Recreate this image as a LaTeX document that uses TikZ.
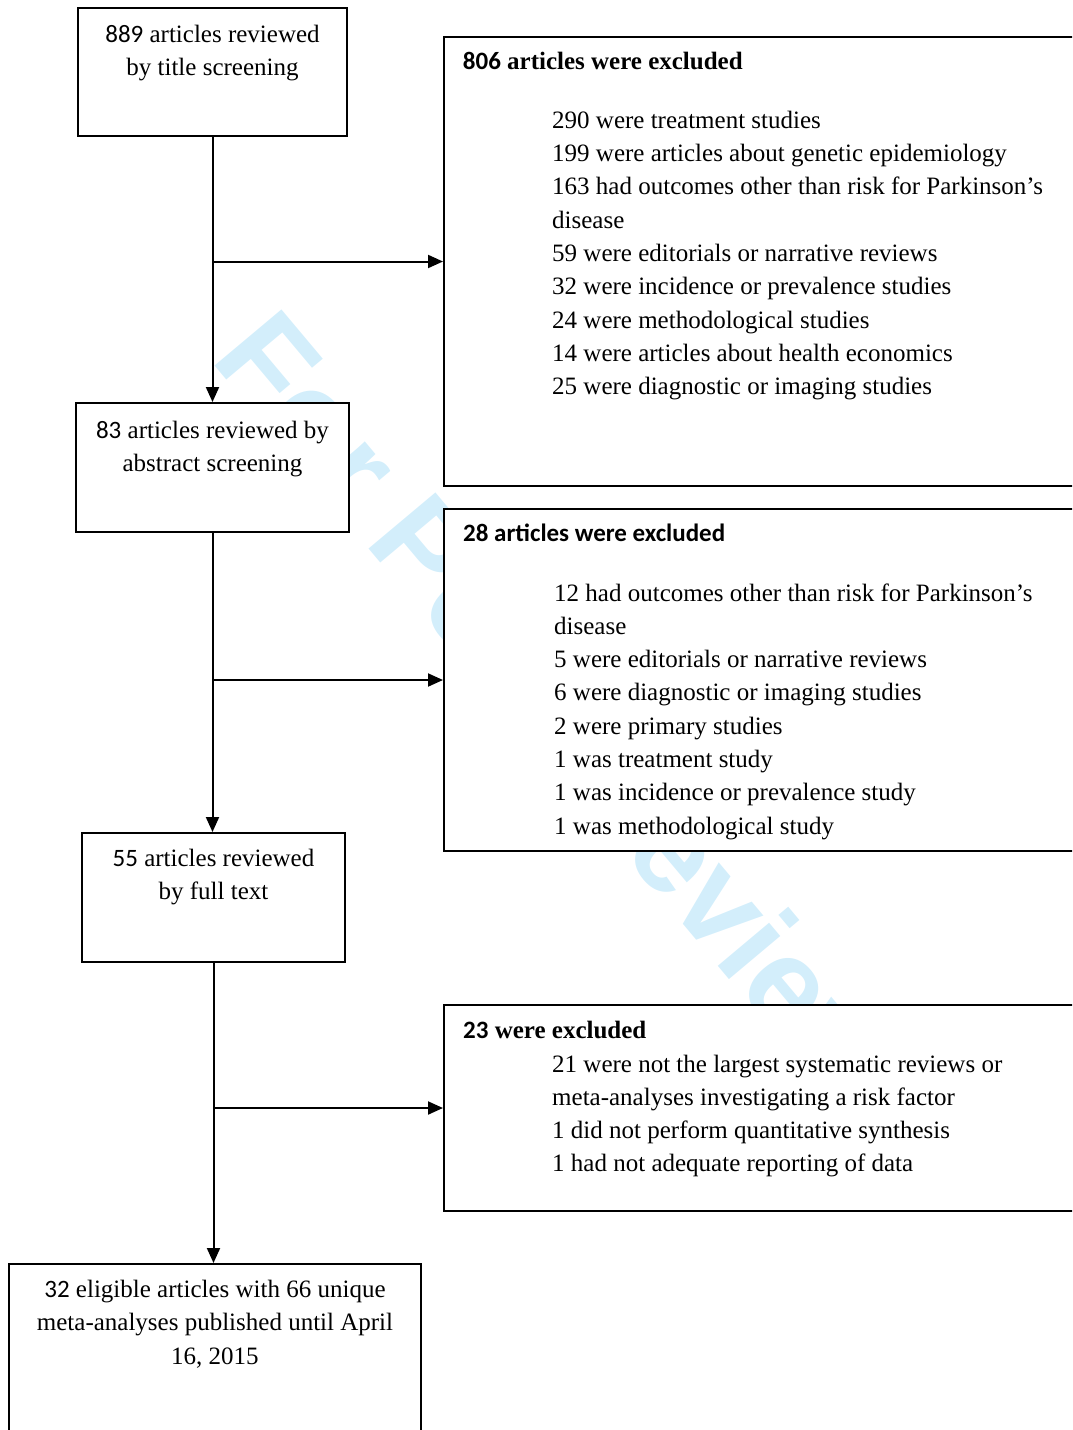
\documentclass[tikz,border=0pt]{standalone}
\usepackage{fontspec}
\setmainfont{Liberation Serif}
\newfontfamily\calfont{Carlito}
\newfontfamily\wmfont{Liberation Sans}
\usepackage{xcolor}
\usepackage{tikz}
\usetikzlibrary{arrows.meta,positioning,calc}
\definecolor{wmblue}{HTML}{D3EEFB}
\definecolor{ink}{HTML}{000000}
\tikzset{
  stagebox/.style={
    rectangle, draw=ink, fill=white, line width=2pt,
    inner sep=0pt
  },
  stagetext/.style={
    anchor=base, align=center, inner sep=0pt,
    font=\fontsize{25}{33.6}\selectfont
  },
  exclbox/.style={
    rectangle, draw=ink, fill=white, line width=2pt,
    anchor=north west, minimum width=660pt, inner sep=0pt
  },
  exclhead/.style={
    anchor=base west, inner sep=0pt,
    font=\fontsize{25}{33.3}\selectfont\bfseries
  },
  excllist/.style={
    anchor=base west, align=left, inner sep=0pt,
    font=\fontsize{25}{33.3}\selectfont
  },
  flowarrow/.style={
    -{Triangle[length=15pt,width=13pt]}, line width=2pt, color=ink
  },
  watermark/.style={
    text=wmblue, font=\wmfont\bfseries\fontsize{127}{127}\selectfont,
    anchor=base west, inner sep=0pt, rotate=-50
  },
}
\begin{document}
\begin{tikzpicture}[x=1pt,y=-1pt]
    \clip (0,0) rectangle (1072,1430);
    % watermark, behind the boxes
    \node[watermark] (wmark) at (209,359) {For Peer Review};

    % LEFT COLUMN: screening stages (text anchored at its last baseline)
    \node[stagebox, minimum width=269pt, minimum height=128pt] (title) at (212.5,72) {};
    \node[stagetext] (titletext) at ([yshift=-68.6pt]title.north) {%
        {\calfont 889} articles reviewed\\by title screening};

    \node[stagebox, minimum width=273pt, minimum height=129pt] (abstract) at (212.5,467.5) {};
    \node[stagetext] (abstracttext) at ([yshift=-69.6pt]abstract.north) {%
        {\calfont 83} articles reviewed by\\abstract screening};

    \node[stagebox, minimum width=263pt, minimum height=129pt] (fulltext) at (213.5,897.5) {};
    \node[stagetext] (fulltexttext) at ([yshift=-67.6pt]fulltext.north) {%
        {\calfont 55} articles reviewed\\by full text};

    \node[stagebox, minimum width=412pt, minimum height=200pt] (eligible) at (215,1364) {};
    \node[stagetext] (eligibletext) at ([yshift=-101.2pt]eligible.north) {%
        {\calfont 32} eligible articles with 66 unique\\
        meta-analyses published until April\\16, 2015};

    % RIGHT COLUMN: exclusions
    \node[exclbox, minimum height=449pt] (excltitle) at (443,36) {};
    \node[exclhead] (excltitlehead) at ([xshift=19.7pt,yshift=-33.3pt]excltitle.north west) {%
        {\calfont 806} articles were excluded};
    \node[excllist] (excltitlelist) at ([xshift=109pt,yshift=-358.7pt]excltitle.north west) {%
        290 were treatment studies\\
        199 were articles about genetic epidemiology\\
        163 had outcomes other than risk for Parkinson’s\\
        disease\\
        59 were editorials or narrative reviews\\
        32 were incidence or prevalence studies\\
        24 were methodological studies\\
        14 were articles about health economics\\
        25 were diagnostic or imaging studies};

    \node[exclbox, minimum height=342pt] (exclabstract) at (443,508) {};
    \node[exclhead] (exclabstracthead) at ([xshift=20pt,yshift=-33.3pt]exclabstract.north west) {%
        \calfont 28 articles were excluded};
    \node[excllist] (exclabstractlist) at ([xshift=111pt,yshift=-326.1pt]exclabstract.north west) {%
        12 had outcomes other than risk for Parkinson’s\\
        disease\\
        5 were editorials or narrative reviews\\
        6 were diagnostic or imaging studies\\
        2 were primary studies\\
        1 was treatment study\\
        1 was incidence or prevalence study\\
        1 was methodological study};

    \node[exclbox, minimum height=206pt] (exclfull) at (443,1004) {};
    \node[exclhead] (exclfullhead) at ([xshift=20pt,yshift=-34pt]exclfull.north west) {%
        {\calfont 23} were excluded};
    \node[excllist] (exclfulllist) at ([xshift=109pt,yshift=-167.9pt]exclfull.north west) {%
        21 were not the largest systematic reviews or\\
        meta-analyses investigating a risk factor\\
        1 did not perform quantitative synthesis\\
        1 had not adequate reporting of data};

    % Arrows
    \draw[flowarrow] (title.south) -- (abstract.north);
    \draw[flowarrow] (title.south |- excltitle.west) -- (excltitle.west);
    \draw[flowarrow] (abstract.south) -- (abstract.south |- fulltext.north);
    \draw[flowarrow] (abstract.south |- exclabstract.west) -- (exclabstract.west);
    \draw[flowarrow] (fulltext.south) -- (fulltext.south |- eligible.north);
    \draw[flowarrow] (fulltext.south |- exclfull.west) -- (exclfull.west);
\end{tikzpicture}
\end{document}
